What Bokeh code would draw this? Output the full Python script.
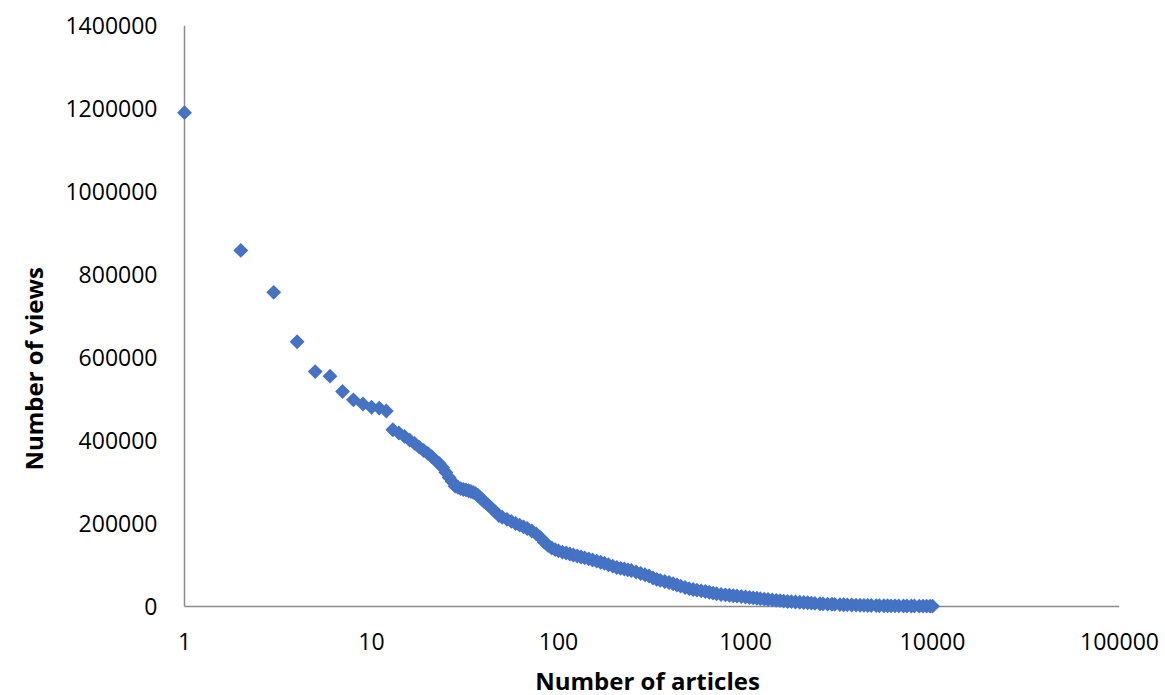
import numpy as np
from bokeh.plotting import figure
from bokeh.models import Range1d, FixedTicker, PrintfTickFormatter, Title
from bokeh.embed import file_html
from bokeh.resources import INLINE

# ---- data ----
ranks = [1, 2, 3, 4, 5, 6, 7, 8, 9, 10, 11, 12, 13, 14, 15, 16, 17, 18, 19, 20,
         21, 22, 23, 24, 25, 26, 27, 28, 29, 30, 31, 32, 33, 34, 35, 36, 37, 38, 39, 40,
         42, 44, 46, 48, 50, 53, 56, 59, 62, 65, 68, 72, 76, 80, 84, 88, 92, 96, 100,
         105, 110, 115, 120, 126, 132, 138, 145, 152, 160, 168, 176, 185, 195, 205,
         215, 225, 235, 245, 260, 275, 290, 305, 320, 335, 350, 370, 390, 410, 430,
         450, 475, 500, 525, 550, 580, 610, 640, 670, 700, 740, 780, 820, 860, 900,
         950, 1000, 1050, 1100, 1150, 1200, 1260, 1320, 1390, 1460, 1530, 1600, 1680,
         1760, 1850, 1950, 2050, 2150, 2250, 2350, 2500, 2600, 2750, 2900, 3000, 3200,
         3350, 3500, 3700, 3900, 4100, 4300, 4500, 4700, 5000, 5200, 5500, 5750, 6000,
         6300, 6600, 7000, 7300, 7700, 8000, 8500, 8900, 9300, 9700, 10000]
views = [1190000, 858000, 757000, 638000, 566000, 555000, 518000, 498000, 488000, 480000,
         478000, 471000, 426000, 418000, 410000, 401000, 393000, 384000, 376000, 369000,
         361000, 352000, 345000, 335000, 323000, 311000, 301000, 290000, 287000, 284000,
         282000, 281000, 279000, 277000, 275000, 272000, 268000, 263000, 258000, 253000,
         245000, 236000, 228000, 219000, 215000, 210000, 205000, 200000, 196000, 192000,
         188000, 182000, 175000, 166000, 155000, 147000, 141000, 137000, 134000,
         131000, 129000, 126500, 124000, 121700, 119300, 117300, 114700, 112000, 109200,
         106500, 104300, 100500, 97100, 94000, 92000, 90400, 88400, 86700, 83100, 79500,
         76400, 73500, 68700, 65500, 63100, 60200, 57800, 54900, 51800, 48900, 45800,
         42900, 41000, 39300, 37800, 36100, 34200, 32300, 30600, 28900, 28000, 27000,
         26000, 25300, 24100, 22900, 21700, 20700, 19800, 18800, 17800, 16900, 15900,
         14900, 14000, 13000, 12000, 11600, 10800, 10100, 9600, 8900, 8200, 7500, 6700,
         6300, 5800, 5300, 5100, 4600, 4100, 3900, 3600, 3400, 2900, 2700, 2500, 2300,
         2100, 1900, 1800, 1700, 1600, 1500, 1400, 1300, 1200, 1150, 1100, 1000, 950,
         900, 850, 800]

X_TICKS = [1, 10, 100, 1000, 10000, 100000]
Y_TICKS = [0, 200000, 400000, 600000, 800000, 1000000, 1200000, 1400000]
X_LABEL = "Number of articles"
Y_LABEL = "Number of views"

X_MIN, X_MAX = 1, 100000
Y_MIN, Y_MAX = 0, 1400000

MARKER_COLOR = "#4472C4"
AXIS_COLOR = "#8c8c8c"
FONT = "Open Sans"

p = figure(
    frame_width=944, frame_height=589,
    x_axis_type="log",
    x_range=Range1d(0.895, X_MAX),
    y_range=Range1d(-19300, Y_MAX),
    output_backend="svg", toolbar_location=None,
    min_border_left=175, min_border_right=46,
    min_border_top=25, min_border_bottom=81,
    background_fill_color="white", border_fill_color="white",
)
p.outline_line_color = None
p.grid.visible = False

xa = p.xaxis[0]
xa.ticker = FixedTicker(ticks=X_TICKS, minor_ticks=[])
xa.formatter = PrintfTickFormatter(format="%d")
xa.major_label_standoff = 18
xa.bounds = (X_MIN, X_MAX)
xa.axis_label = X_LABEL
xa.axis_label_standoff = 11
xa.axis_label_text_font = FONT
xa.axis_label_text_font_size = "24px"
xa.axis_label_text_font_style = "bold"
xa.axis_label_text_color = "#000000"

ya = p.yaxis[0]
ya.ticker = FixedTicker(ticks=Y_TICKS, minor_ticks=[])
ya.formatter = PrintfTickFormatter(format="%d")
ya.major_label_standoff = 18
ya.bounds = (Y_MIN, Y_MAX)

for ax in (xa, ya):
    ax.major_tick_in = 0
    ax.major_tick_out = 0
    ax.minor_tick_in = 0
    ax.minor_tick_out = 0
    ax.axis_line_color = None
    ax.major_label_text_font = FONT
    ax.major_label_text_font_size = "23px"
    ax.major_label_text_color = "#000000"

# axis lines drawn at x = 1 and y = 0
p.segment(x0=[X_MIN, X_MIN], y0=[Y_MIN, Y_MIN], x1=[X_MIN, X_MAX], y1=[Y_MAX, Y_MIN],
          line_color=AXIS_COLOR, line_width=1.5)

p.scatter(ranks, views, marker="square", size=10.5, angle=np.pi / 4,
          fill_color=MARKER_COLOR, line_color=None)

p.add_layout(Title(text=Y_LABEL, align="left", offset=144, standoff=26,
                   text_font=FONT, text_font_size="24px", text_font_style="bold",
                   text_color="#000000"), "left")

open("out.html", "w").write(file_html(p, INLINE))
